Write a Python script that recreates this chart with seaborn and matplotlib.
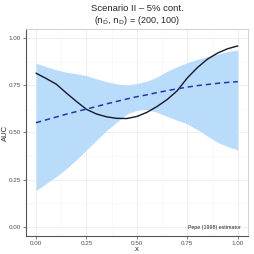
import matplotlib
matplotlib.use("Agg")
import matplotlib.pyplot as plt
import seaborn as sns
import pandas as pd

# values
x_grid = [0.0, 0.05, 0.1, 0.15, 0.2, 0.25, 0.3, 0.35, 0.4, 0.45, 0.5,
          0.55, 0.6, 0.65, 0.7, 0.75, 0.8, 0.85, 0.9, 0.95, 1.0]
auc_true = [0.815, 0.787, 0.757, 0.71, 0.665, 0.623, 0.598, 0.583, 0.575, 0.574, 0.585,
            0.607, 0.638, 0.675, 0.722, 0.79, 0.845, 0.89, 0.922, 0.945, 0.96]
auc_est = [0.552, 0.567, 0.582, 0.597, 0.611, 0.624, 0.638, 0.652, 0.665, 0.678, 0.69,
           0.70, 0.712, 0.722, 0.732, 0.741, 0.749, 0.755, 0.761, 0.766, 0.77]
band_upper = [0.868, 0.85, 0.833, 0.82, 0.812, 0.802, 0.785, 0.77, 0.758, 0.752, 0.76,
              0.773, 0.795, 0.825, 0.85, 0.871, 0.889, 0.903, 0.917, 0.93, 0.938]
band_lower = [0.191, 0.228, 0.265, 0.307, 0.355, 0.407, 0.46, 0.51, 0.555, 0.598, 0.618,
              0.622, 0.607, 0.585, 0.565, 0.545, 0.515, 0.48, 0.447, 0.425, 0.407]

df = pd.DataFrame({"x": x_grid, "true": auc_true, "est": auc_est,
                   "lo": band_lower, "hi": band_upper})

sns.set_theme(style="whitegrid")
plt.rcParams["font.family"] = ["Liberation Sans", "DejaVu Sans"]

fig = plt.figure(figsize=(2.54, 2.54), dpi=100)
ax = fig.add_axes([0.102, 0.071, 0.874, 0.815])

ax.fill_between(df["x"], df["lo"], df["hi"], color="#BADCFB", linewidth=0, zorder=1)
sns.lineplot(data=df, x="x", y="true", ax=ax, color="#16172A", linewidth=1.0, zorder=3)
sns.lineplot(data=df, x="x", y="est", ax=ax, color="#2236A8", linewidth=1.1,
             linestyle=(0, (3.5, 2.5)), zorder=3)

ax.set_xlim(-0.05, 1.05)
ax.set_ylim(-0.05, 1.05)
ticks = [0.0, 0.25, 0.5, 0.75, 1.0]
ax.set_xticks(ticks)
ax.set_yticks(ticks)
ax.set_xticklabels(["0.00", "0.25", "0.50", "0.75", "1.00"])
ax.set_yticklabels(["0.00", "0.25", "0.50", "0.75", "1.00"])
ax.set_xticks([0.125, 0.375, 0.625, 0.875], minor=True)
ax.set_yticks([0.125, 0.375, 0.625, 0.875], minor=True)
ax.grid(which="major", color="#EBEBEB", linewidth=0.6)
ax.grid(which="minor", color="#F3F3F3", linewidth=0.4)
ax.tick_params(axis="both", which="major", labelsize=4.5, colors="#4D4D4D",
               length=2, width=0.5, pad=1.5, bottom=True, left=True)
ax.tick_params(axis="both", which="minor", length=0)

for side in ["top", "right"]:
    ax.spines[side].set_color("#CCCCCC")
    ax.spines[side].set_linewidth(0.6)
for side in ["left", "bottom"]:
    ax.spines[side].set_color("#555555")
    ax.spines[side].set_linewidth(0.8)

ax.set_xlabel("x", fontsize=5.5, labelpad=0)
ax.set_ylabel("AUC", fontsize=5.5)
ax.yaxis.set_label_coords(-0.078, 0.5)

ax.text(0.97, 0.03, "Pepe (1998) estimator", transform=ax.transAxes,
        ha="right", va="bottom", fontsize=3.8, color="#222222")

fig.text(0.539, 0.965, "Scenario II \u2013 5% cont.", ha="center", va="center", fontsize=6.8)
fig.text(0.539, 0.918, r"($\mathrm{n}_{\bar{\mathrm{D}}}$, $\mathrm{n}_{\mathrm{D}}$) = (200, 100)",
         ha="center", va="center", fontsize=6.5)

fig.savefig("out.png", dpi=100)
